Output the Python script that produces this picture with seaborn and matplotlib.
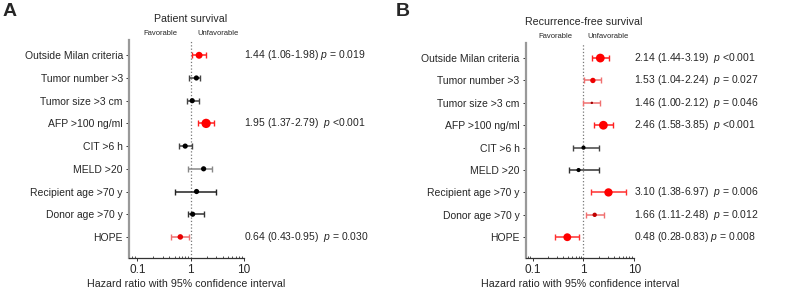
# Forest plots: patient survival and recurrence-free survival

import pandas as pd
import matplotlib
matplotlib.use('Agg')
import matplotlib.pyplot as plt
import matplotlib.transforms as mtransforms
import seaborn as sns

sns.set_style('white')
plt.rcParams['font.family'] = ['Liberation Sans', 'DejaVu Sans']
plt.rcParams['mathtext.fontset'] = 'custom'
plt.rcParams['mathtext.rm'] = 'Liberation Sans'
plt.rcParams['mathtext.it'] = 'Liberation Sans:italic'

factors = ['Outside Milan criteria', 'Tumor number >3', 'Tumor size >3 cm',
           'AFP >100 ng/ml', 'CIT >6 h', 'MELD >20', 'Recipient age >70 y',
           'Donor age >70 y', 'HOPE']

# Patient survival
ps_hr = [1.44, 1.28, 1.07, 1.95, 0.79, 1.75, 1.29, 1.09, 0.64]
ps_lo = [1.06, 0.92, 0.87, 1.37, 0.61, 0.91, 0.50, 0.91, 0.43]
ps_hi = [1.98, 1.52, 1.46, 2.79, 1.04, 2.55, 2.93, 1.80, 0.95]
ps_size = [25, 14, 14, 45, 14, 14, 14, 14, 16]
ps_dot = ['#ff0000', '#000000', '#000000', '#ff0000', '#000000', '#000000', '#000000', '#000000', '#e80000']
ps_bar = ['#ff2020', '#444444', '#444444', '#ff2020', '#444444', '#888888', '#222222', '#333333', '#f07070']
ps_text = [r'1.44 (1.06-1.98) $p$ = 0.019', '', '', r'1.95 (1.37-2.79)  $p$ <0.001',
           '', '', '', '', r'0.64 (0.43-0.95)  $p$ = 0.030']

# Recurrence-free survival
rfs_hr = [2.14, 1.53, 1.46, 2.46, 1.00, 0.80, 3.10, 1.66, 0.48]
rfs_lo = [1.44, 1.04, 1.00, 1.58, 0.61, 0.51, 1.38, 1.11, 0.28]
rfs_hi = [3.19, 2.24, 2.12, 3.85, 2.02, 2.02, 6.97, 2.48, 0.83]
rfs_size = [40, 15, 3, 40, 9, 9, 36, 10, 32]
rfs_dot = ['#ff0000', '#ee0000', '#a00000', '#ff0000', '#000000', '#000000', '#ff0000', '#c00000', '#ff0000']
rfs_bar = ['#ff2020', '#f07070', '#f07070', '#ff2020', '#444444', '#333333', '#ff3030', '#f07070', '#ff3030']
rfs_text = [r'2.14 (1.44-3.19)  $p$ <0.001', r'1.53 (1.04-2.24)  $p$ = 0.027',
            r'1.46 (1.00-2.12)  $p$ = 0.046', r'2.46 (1.58-3.85)  $p$ <0.001', '', '',
            r'3.10 (1.38-6.97)  $p$ = 0.006', r'1.66 (1.11-2.48)  $p$ = 0.012',
            r'0.48 (0.28-0.83) $p$ = 0.008']

fig = plt.figure(figsize=(7.87, 2.99), dpi=100)
ax_a = fig.add_axes([0.164, 0.137, 0.146, 0.729])
ax_b = fig.add_axes([0.668, 0.137, 0.138, 0.719])


def forest(ax, title, hr, lo, hi, sizes, dots, bars, texts, xmin, fav_x, unfav_x):
    df = pd.DataFrame({'factor': factors, 'row': range(len(factors)),
                       'hr': hr, 'lo': lo, 'hi': hi})
    ax.axvline(1, color='#777777', ls=':', lw=0.9, zorder=0)
    for i, r in df.iterrows():
        ax.errorbar(r['hr'], r['row'], xerr=[[r['hr'] - r['lo']], [r['hi'] - r['hr']]],
                    fmt='none', ecolor=bars[i], elinewidth=1.1, capsize=2.2, capthick=1.0)
    sns.scatterplot(data=df, x='hr', y='row', hue='factor', size='factor',
                    palette=dict(zip(factors, dots)), sizes=dict(zip(factors, sizes)),
                    edgecolor='none', legend=False, ax=ax, zorder=3)
    ax.set_xscale('log')
    ax.set_xlim(xmin, 10)
    ax.set_ylim(8.93, -0.67)
    ax.set_xticks([0.1, 1, 10])
    ax.set_xticklabels(['0.1', '1', '10'], fontsize=8.5)
    ax.set_yticks(range(len(factors)))
    ax.set_yticklabels(factors, fontsize=7.5)
    ax.set_xlabel('Hazard ratio with 95% confidence interval', fontsize=7.7, labelpad=2)
    ax.set_ylabel('')
    for s in ['top', 'right']:
        ax.spines[s].set_visible(False)
    ax.spines['left'].set_color('#999999')
    ax.spines['left'].set_linewidth(1.6)
    ax.spines['bottom'].set_color('#333333')
    ax.spines['bottom'].set_linewidth(0.9)
    ax.tick_params(axis='y', which='both', left=True, length=2.5, width=0.7,
                   color='#333333', pad=2)
    ax.tick_params(axis='x', which='major', bottom=True, length=2.5, width=0.7,
                   color='#333333', pad=2)
    ax.tick_params(axis='x', which='minor', bottom=True, direction='in', length=1.8,
                   width=0.6, color='#333333')
    trans = mtransforms.blended_transform_factory(ax.transAxes, ax.transData)
    for i, t in enumerate(texts):
        if t:
            ax.text(1.0, i, t, transform=trans, fontsize=7.5, va='center', ha='left')
    top = mtransforms.blended_transform_factory(ax.transData, ax.transAxes)
    ax.text(1, 1.096, title, transform=top, fontsize=7.7, ha='center', va='center')
    ax.text(fav_x, 1.03, 'Favorable', transform=top, fontsize=5.5, ha='center', va='center')
    ax.text(unfav_x, 1.03, 'Unfavorable', transform=top, fontsize=5.5, ha='center', va='center')


forest(ax_a, 'Patient survival', ps_hr, ps_lo, ps_hi, ps_size, ps_dot, ps_bar, ps_text,
       0.07, 0.27, 3.2)
forest(ax_b, 'Recurrence-free survival', rfs_hr, rfs_lo, rfs_hi, rfs_size, rfs_dot, rfs_bar,
       rfs_text, 0.073, 0.28, 3.1)

fig.text(0.003, 0.96, 'A', fontsize=14, fontweight='bold', va='center', ha='left')
fig.text(0.503, 0.96, 'B', fontsize=14, fontweight='bold', va='center', ha='left')

fig.savefig('out.png', dpi=100)
